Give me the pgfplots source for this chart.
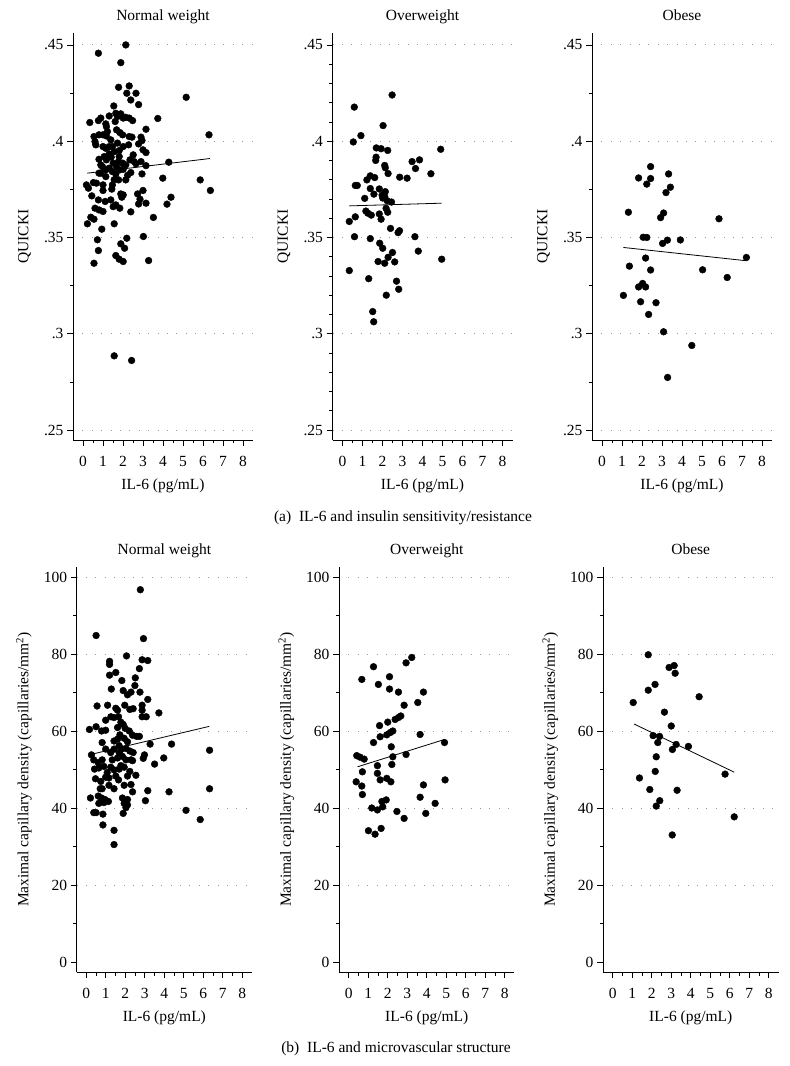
\documentclass[border=0pt]{standalone}
\usepackage{pgfplots}
\pgfplotsset{compat=1.18}
\usepackage{fontspec}
\setmainfont{Liberation Serif}
\newcommand\fs{\fontsize{15.5}{18}\selectfont}

\pgfplotsset{
  panel/.style={
    scale only axis,
    anchor=south west,
    axis x line*=bottom,
    axis y line*=left,
    axis line style={line width=0.8pt},
    tick align=outside,
    major tick length=6pt,
    minor tick length=3.5pt,
    every tick/.style={black, line width=0.7pt},
    xmin=-0.5, xmax=8.5,
    xtick={0,...,8},
    minor x tick num=1,
    ymajorgrids,
    major grid style={draw=gray!80, line width=0.9pt, dash pattern=on 0.9pt off 8.5pt},
    tick label style={font=\fs},
    xticklabel style={yshift=-7pt},
    /pgf/number format/assume math mode=true,
    label style={font=\fs},
    title style={font=\fs, at={(0.5,1)}, anchor=base, yshift=6pt},
    xlabel={IL-6 (pg/mL)},
    xlabel style={at={(axis description cs:0.5,0)}, anchor=center, yshift=-46pt},
    clip=false,
  },
  toprow/.style={panel, width=180pt, height=407pt, ymin=0.2448, ymax=0.4562,
     ytick={0.25,0.3,0.35,0.4,0.45}, yticklabels={.25,.3,.35,.4,.45},
     ylabel={QUICKI},
     ylabel style={at={(axis description cs:-0.27,0.5)}, anchor=center}},
  botrow/.style={panel, width=175.5pt, height=405pt, ymin=-2.6, ymax=102.6,
     ytick={20,40,60,80,100}, extra y ticks={0}, extra y tick style={grid=none},
     minor ytick={10,30,50,70,90},
     ylabel={Maximal capillary density (capillaries/mm\textsuperscript{2})},
     ylabel style={at={(axis description cs:-0.30,0.5)}, anchor=center}},
  dots/.style={only marks, mark=*, mark size=3.4pt, mark options={draw=black, fill=black}},
  fitline/.style={no marks, black, line width=0.8pt},
}

\begin{document}
\begin{tikzpicture}
\path[use as bounding box] (0,0) rectangle (790pt,1066pt);

% ---------- (a) top row ----------
\begin{axis}[toprow, at={(73pt,626pt)}, title={Normal weight}, minor y tick num=1]
\addplot[dots] table {
0.77 .4457
2.14 .450
1.89 .4408
2.31 .4287
1.78 .428
2.19 .4249
2.65 .4249
2.78 .419
5.16 .4228
2.39 .4214
1.54 .4183
0.34 .4097
0.77 .4107
0.89 .412
1.14 .409
1.17 .4076
1.31 .4131
1.64 .4145
1.72 .4128
1.89 .4142
2.01 .412
2.14 .4124
2.31 .412
2.48 .4107
1.61 .4102
1.68 .4059
3.74 .4118
3.15 .4062
6.30 .4033
0.55 .4024
0.60 .3998
0.64 .3981
0.80 .4033
1.00 .4033
1.17 .4027
1.84 .4045
1.98 .4033
2.31 .4024
2.45 .4021
2.78 .3986
2.90 .4021
2.95 .4003
2.28 .3981
1.00 .3972
1.14 .3963
1.31 .3972
1.47 .3972
1.81 .3951
3.00 .3955
3.15 .3941
0.80 .3906
0.89 .3877
1.06 .392
1.17 .3903
1.31 .3934
1.41 .3917
1.51 .3886
1.78 .3894
1.98 .3886
2.14 .3877
2.35 .3903
2.56 .3894
2.90 .3894
3.15 .3873
4.29 .3891
0.97 .3868
1.14 .3851
1.47 .3842
1.64 .383
1.84 .3851
2.01 .3854
2.39 .3837
2.95 .383
1.78 .3799
2.14 .3799
3.99 .3808
5.86 .3799
0.17 .3773
0.27 .3756
0.52 .3785
0.67 .3782
1.00 .3773
1.47 .3773
1.44 .3751
1.00 .3744
6.37 .3744
3.00 .3744
0.44 .3716
0.77 .3695
1.11 .3687
1.39 .3695
1.89 .3726
2.01 .3721
1.94 .3709
2.73 .3726
2.85 .3699
2.78 .3674
3.15 .3678
4.40 .3709
4.20 .3673
0.60 .3652
0.80 .3643
1.00 .3635
1.51 .366
1.64 .3669
1.84 .3652
2.39 .3633
0.22 .3571
0.39 .3605
0.55 .3595
0.94 .3543
1.56 .3571
3.52 .3604
3.02 .3505
0.72 .3488
1.89 .3467
2.19 .3496
2.08 .3444
0.77 .3432
1.64 .3406
1.81 .3387
2.01 .3375
0.55 .3366
3.28 .338
1.56 .2885
2.43 .2861
1.22 .405
1.39 .4007
1.72 .399
1.56 .3946
1.31 .386
1.68 .3868
1.14 .3816
0.90 .3834
1.56 .380
2.51 .3929
2.23 .3823
2.65 .3882
1.81 .392
0.80 .3834
2.01 .3972
};
\addplot[fitline] coordinates {(0.22,0.3834) (6.35,0.3910)};
\end{axis}

\begin{axis}[toprow, at={(332.5pt,626pt)}, title={Overweight}, minor y tick num=4]
\addplot[dots] table {
2.48 .424
0.59 .4177
2.03 .4081
0.92 .4029
0.54 .3996
1.69 .3965
1.93 .3961
2.26 .3952
4.91 .3958
1.68 .3917
1.66 .39
3.48 .3894
3.85 .3903
2.11 .3874
2.14 .3862
3.65 .3858
2.28 .3832
4.42 .3831
2.86 .3813
3.23 .3808
1.22 .3799
1.39 .382
1.61 .3811
0.64 .377
0.74 .377
1.39 .3754
1.84 .3752
1.57 .3725
1.98 .372
2.14 .3738
2.11 .3713
1.11 .3703
2.01 .3705
2.23 .3691
2.45 .3684
1.17 .3637
1.27 .3626
1.44 .3616
1.84 .3622
2.18 .3651
2.26 .3631
0.64 .3607
1.93 .3595
0.34 .3583
2.40 .3547
2.85 .3535
2.78 .3525
0.60 .3504
1.39 .3494
3.62 .3504
1.86 .347
2.01 .3444
2.50 .3422
3.79 .3429
2.28 .3397
1.78 .3375
2.11 .3366
2.61 .3373
4.96 .3387
0.34 .3328
1.31 .3286
2.70 .3273
2.81 .3231
2.19 .3200
1.51 .3115
1.56 .3062
};
\addplot[fitline] coordinates {(0.34,0.3664) (4.96,0.3678)};
\end{axis}

\begin{axis}[toprow, at={(592pt,626pt)}, title={Obese}, minor y tick num=1]
\addplot[dots] table {
2.43 .3868
1.83 .3809
2.43 .3806
3.33 .383
2.24 .3777
3.42 .3761
3.20 .3733
1.32 .3631
3.08 .3627
2.93 .3603
5.85 .3597
2.06 .3501
2.24 .35
3.27 .3486
3.03 .3469
3.92 .3487
7.22 .3396
2.18 .3393
1.37 .3351
2.43 .3331
5.03 .3332
6.26 .3292
2.03 .3261
1.83 .3243
2.18 .3243
1.07 .3199
1.93 .3166
2.70 .3161
2.33 .31
3.08 .301
4.49 .2939
3.28 .2773
};
\addplot[fitline] coordinates {(1.07,0.3448) (7.22,0.3379)};
\end{axis}

\node[font=\fs] at (403pt,548pt) {(a)\enspace IL-6 and insulin sensitivity/resistance};

% ---------- (b) bottom row ----------
\begin{axis}[botrow, at={(76.6pt,94pt)}, title={Normal weight}]
\addplot[dots] table {
2.77 96.7
0.50 84.8
2.93 84.0
2.06 79.5
1.19 78.1
1.19 77.3
2.86 78.5
3.15 78.3
1.19 74.5
1.51 75.2
2.51 73.8
2.72 76.2
1.82 73.1
2.49 71.8
2.29 70.1
1.89 70.5
2.11 69.4
1.28 70.9
2.75 70.1
0.55 66.5
1.09 66.7
1.51 65.9
1.60 65.4
1.97 66.7
2.23 65.6
2.40 65.8
2.86 66.7
2.86 65.4
3.15 68.2
3.72 64.7
2.86 63.7
3.07 63.7
0.99 62.8
1.26 63.7
1.42 63.5
1.65 63.7
1.77 62.3
1.89 61.7
0.16 60.4
0.50 61.1
0.78 60.0
0.99 60.2
1.60 60.9
1.99 60.7
0.81 57.0
1.42 57.4
1.60 57.9
1.72 59.0
1.94 58.1
2.11 57.2
2.37 58.9
2.58 58.6
2.72 58.6
3.27 56.6
4.37 56.6
6.32 55.0
0.99 55.3
1.25 54.4
1.82 55.3
2.03 55.5
2.23 54.8
2.40 54.4
1.60 53.0
1.85 53.4
2.37 52.3
2.98 53.8
3.97 53.0
3.50 51.4
0.26 53.8
0.38 52.5
0.61 51.8
0.81 52.5
2.92 52.9
0.42 50.1
0.64 50.4
0.90 50.8
1.25 50.6
1.42 49.9
1.68 50.1
1.94 50.6
2.23 49.5
2.54 48.5
2.11 48.3
1.65 47.3
0.47 47.6
0.74 46.9
0.99 48.0
1.16 47.8
1.94 45.9
2.29 46.1
0.71 45.0
1.42 45.0
2.37 44.2
3.15 44.5
4.24 44.2
6.32 45.0
0.61 43.1
0.78 42.6
0.95 42.2
1.85 42.6
2.11 42.2
0.21 42.6
0.64 41.2
0.90 41.4
1.13 41.7
1.94 41.2
2.11 40.8
3.03 41.9
2.03 40.1
0.38 38.8
0.50 38.8
0.85 38.4
1.89 38.6
5.11 39.4
5.84 37.0
0.85 35.6
1.42 34.2
1.42 30.5
1.42 55.3
1.68 54.4
1.33 52.5
2.03 52.5
1.77 51.0
2.29 52.5
1.51 48.3
1.16 45.9
1.68 56.2
2.20 60.0
0.81 45.0
1.07 49.2
};
\addplot[fitline] coordinates {(0.22,53.9) (6.30,61.2)};
\end{axis}

\begin{axis}[botrow, at={(339pt,94pt)}, title={Overweight}]
\addplot[dots] table {
3.23 79.1
2.94 77.7
1.27 76.7
0.67 73.4
2.09 74.1
1.52 72.1
2.09 70.9
2.55 70.1
3.83 70.1
2.84 66.7
3.54 67.4
2.67 63.9
2.55 63.5
2.38 63.0
2.00 62.3
1.58 61.4
2.26 60.0
2.13 59.6
1.95 59.0
1.61 58.5
3.66 59.1
1.27 57.0
4.91 57.0
2.18 55.9
0.41 53.6
0.58 53.2
0.79 52.7
2.26 53.3
2.94 53.9
1.47 51.0
2.21 51.3
0.70 49.4
1.47 49.0
1.61 47.3
1.95 47.7
2.16 46.8
0.38 46.8
0.67 45.7
3.83 46.0
4.94 47.3
0.70 43.5
3.66 42.8
1.70 41.7
1.92 42.1
1.74 40.3
1.18 40.0
1.47 39.5
2.47 39.1
4.43 41.2
3.95 38.6
2.84 37.3
1.01 34.1
1.35 33.2
1.66 34.7
};
\addplot[fitline] coordinates {(0.45,50.7) (4.91,57.8)};
\end{axis}

\begin{axis}[botrow, at={(603pt,94pt)}, title={Obese}]
\addplot[dots] table {
1.82 79.8
2.89 76.5
3.15 77.0
3.20 75.0
2.17 72.1
1.82 70.6
4.43 68.9
1.05 67.4
2.65 64.9
3.00 61.3
2.07 58.8
2.40 58.6
2.31 57.0
3.25 56.5
3.88 56.0
3.06 55.2
2.23 53.3
2.18 49.5
1.37 47.8
5.76 48.8
1.90 44.8
3.30 44.6
2.41 41.9
2.23 40.5
6.23 37.7
3.05 33.0
};
\addplot[fitline] coordinates {(1.10,61.8) (6.23,49.3)};
\end{axis}

\node[font=\fs] at (396pt,17pt) {(b)\enspace IL-6 and microvascular structure};
\end{tikzpicture}
\end{document}
